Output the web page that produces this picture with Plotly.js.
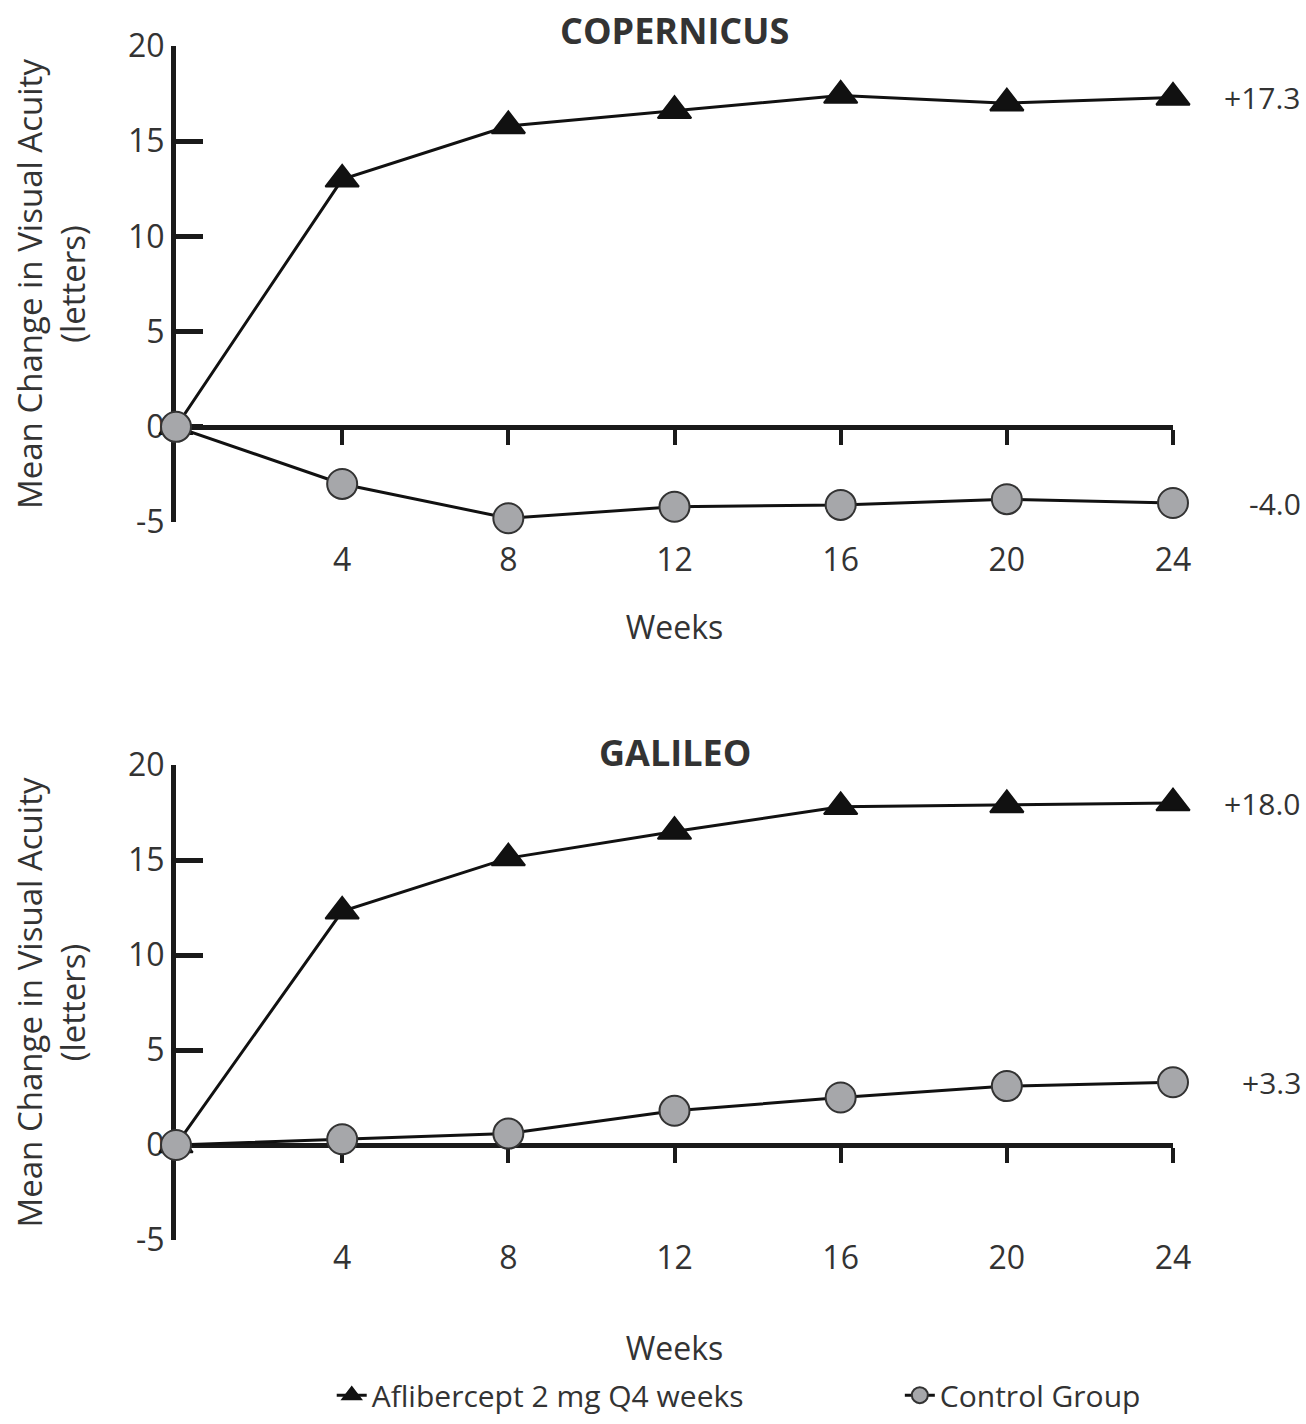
<!DOCTYPE html>
<html><head><meta charset="utf-8">
<script src="https://cdn.plot.ly/plotly-3.0.1.min.js"></script>
<style>html,body{margin:0;padding:0;background:#fff}</style>
</head><body><div id="chart" style="width:1306px;height:1424px"></div>
<script>
const weeks = [0, 4, 8, 12, 16, 20, 24];
const copernicusAflibercept = [0, 13.0, 15.8, 16.6, 17.4, 17.0, 17.3];
const copernicusControl = [0, -3.0, -4.8, -4.2, -4.1, -3.8, -4.0];
const galileoAflibercept = [0, 12.3, 15.1, 16.5, 17.8, 17.9, 18.0];
const galileoControl = [0, 0.3, 0.6, 1.8, 2.5, 3.1, 3.3];
const yTicks = [-5, 0, 5, 10, 15, 20];
const xTicks = [4, 8, 12, 16, 20, 24];
const panelTitles = ['COPERNICUS', 'GALILEO'];
const seriesNames = ['Aflibercept 2 mg Q4 weeks', 'Control Group'];
const yTitle = 'Mean Change in Visual Acuity<br>(letters)';
const xTitle = 'Weeks';

const FONT = 'Open Sans, Noto Sans, sans-serif';
const TXT = '#333333';
const AX = '#1a1a1a';

const topDom = [0.6013, 1];
const botDom = [0, 0.3978];
const zeroFrac = 5 / 25;
const posTop = topDom[0] + zeroFrac * (topDom[1] - topDom[0]);
const posBot = botDom[0] + zeroFrac * (botDom[1] - botDom[0]);

function aflTrace(y, xa, ya, show) {
  return {x: weeks, y: y, xaxis: xa, yaxis: ya, name: seriesNames[0], showlegend: show,
    legend: 'legend', mode: 'lines+markers', cliponaxis: false,
    line: {color: '#111', width: 3},
    marker: {symbol: 'triangle-up', size: 29, color: '#111', line: {color: '#111', width: 2}}};
}
function ctlTrace(y, xa, ya, show) {
  return {x: weeks, y: y, xaxis: xa, yaxis: ya, name: seriesNames[1], showlegend: show,
    legend: 'legend2', mode: 'lines+markers', cliponaxis: false,
    line: {color: '#111', width: 3},
    marker: {symbol: 'circle', size: 30, color: '#a6a7aa', line: {color: '#333', width: 2}}};
}
const data = [
  aflTrace(copernicusAflibercept, 'x', 'y', true),
  ctlTrace(copernicusControl, 'x', 'y', true),
  aflTrace(galileoAflibercept, 'x2', 'y2', false),
  ctlTrace(galileoControl, 'x2', 'y2', false)
];

function xAxis(pos, labelStandoff, titleStandoff) {
  return {domain: [0, 1], range: [0, 24], anchor: 'free', position: pos,
    showline: true, linewidth: 5, linecolor: AX, ticks: 'outside', ticklen: 15, tickwidth: 4,
    tickcolor: AX, tickvals: xTicks, ticktext: xTicks.map(String),
    tickfont: {family: FONT, size: 32, color: TXT}, ticklabelstandoff: labelStandoff,
    title: {text: xTitle, font: {family: FONT, size: 32, color: TXT}, standoff: titleStandoff},
    showgrid: false, zeroline: false, layer: 'below traces', automargin: false};
}
function yAxis(dom, anchor) {
  return {domain: dom, range: [-5, 20], anchor: anchor, showline: true, linewidth: 5, linecolor: AX,
    ticks: 'inside', ticklen: 27, tickwidth: 5, tickcolor: AX, tickvals: yTicks,
    ticktext: yTicks.map(String),
    tickfont: {family: FONT, size: 32, color: TXT}, showgrid: false, zeroline: false,
    layer: 'below traces', automargin: false,
    title: {text: yTitle, font: {family: FONT, size: 33, color: TXT}, standoff: 34}};
}

function endLabel(v, xa, ya) {
  return {x: weeks[weeks.length - 1], y: v, xref: xa, yref: ya, xanchor: 'right', yanchor: 'middle',
    xshift: 130, showarrow: false, text: (v > 0 ? '+' : '') + v.toFixed(1),
    font: {family: FONT, size: 30, color: TXT}};
}
const last = a => a[a.length - 1];

function legendBox(x) {
  return {orientation: 'h', xref: 'container', x: x, xanchor: 'left', yref: 'container', y: 0.002,
    yanchor: 'bottom', font: {family: FONT, size: 30, color: TXT}, bgcolor: 'rgba(0,0,0,0)'};
}

const layout = {
  width: 1306, height: 1424,
  margin: {l: 176, r: 133, t: 46, b: 184, autoexpand: false},
  paper_bgcolor: '#fff', plot_bgcolor: '#fff',
  showlegend: true,
  legend: legendBox(0.254),
  legend2: legendBox(0.689),
  xaxis: xAxis(posTop, 88, 37),
  yaxis: yAxis(topDom, 'x'),
  xaxis2: xAxis(posBot, 68, 64),
  yaxis2: yAxis(botDom, 'x2'),
  annotations: [
    {text: '<b>' + panelTitles[0] + '</b>', xref: 'paper', yref: 'paper', x: 0.5, y: 1.0134,
      xanchor: 'center', yanchor: 'middle', showarrow: false, font: {family: FONT, size: 36, color: TXT}},
    {text: '<b>' + panelTitles[1] + '</b>', xref: 'paper', yref: 'paper', x: 0.5, y: 0.4079,
      xanchor: 'center', yanchor: 'middle', showarrow: false, font: {family: FONT, size: 36, color: TXT}},
    endLabel(last(copernicusAflibercept), 'x', 'y'),
    endLabel(last(copernicusControl), 'x', 'y'),
    endLabel(last(galileoAflibercept), 'x2', 'y2'),
    endLabel(last(galileoControl), 'x2', 'y2')
  ]
};
Plotly.newPlot('chart', data, layout, {displayModeBar: false, staticPlot: true});
</script></body></html>
